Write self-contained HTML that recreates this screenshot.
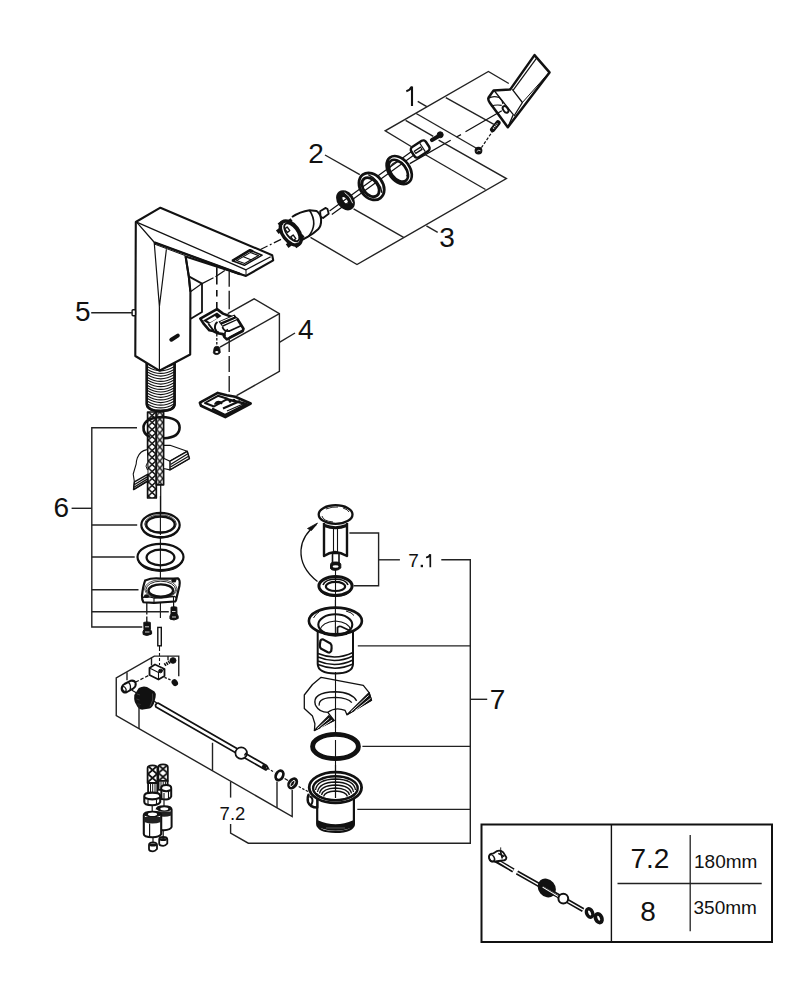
<!DOCTYPE html>
<html><head><meta charset="utf-8">
<style>
html,body{margin:0;padding:0;background:#fff;}
body{width:792px;height:1000px;overflow:hidden;}
svg{display:block;}
text{font-family:"Liberation Sans",sans-serif;fill:#111;}
</style></head><body>
<svg width="792" height="1000" viewBox="0 0 792 1000">

<defs>
<pattern id="braid" width="7.4" height="7" patternUnits="userSpaceOnUse" x="148.4" y="412">
<rect width="7.4" height="7" fill="#fff"/>
<path d="M0,0 L7.4,7 M7.4,0 L0,7" stroke="#111" stroke-width="1.5"/>
</pattern>
<pattern id="braid2" width="6.4" height="7" patternUnits="userSpaceOnUse" x="156.6" y="415.5">
<rect width="6.4" height="7" fill="#fff"/>
<path d="M0,0 L6.4,7 M6.4,0 L0,7" stroke="#111" stroke-width="1.4"/>
</pattern>
<pattern id="thread" width="10" height="2.3" patternUnits="userSpaceOnUse">
<rect width="10" height="2.3" fill="#fff"/>
<path d="M0,0.6 L10,0.6" stroke="#222" stroke-width="1"/>
</pattern>
</defs>
<!-- LEVER part 1 -->
<g id="lever" fill="none" stroke="#111" stroke-linejoin="round">
<path d="M534.5,55.1 L549.5,72.4 L507.8,127.3 L490,103 Q487.5,99.5 488.6,97.5 L493.6,90.4 L510.3,89.4 Z" fill="#fff" stroke-width="2.5"/>
<path d="M512.3,89.4 L522.4,102.5 L514,116" stroke-width="1.3"/>
<path d="M494.5,91 L513.3,114.6 L508,127" stroke-width="1.3"/>
<path d="M522.4,102.5 L546,76" stroke-width="1"/>
<path d="M513.2,90.2 L536.8,57.8" stroke-width="1.2"/>
<path d="M488.6,98.3 Q493.1,95.3 499.2,97.5 Q502.0,99.7 503.0,104.0" stroke-width="1.2"/>
<path d="M490.9,106.2 Q496.2,104.3 501.7,105.4" stroke-width="1.1"/>
<ellipse cx="505.6" cy="109.4" rx="2.3" ry="3.7" transform="rotate(-35 505.6 109.4)" stroke-width="2"/>
</g>
<!-- small parts of 1 -->
<g id="p1small" stroke="#111" fill="none">
<path d="M409.8,163.6 L450.7,140.3 M456.4,137 L461,134.7 M465.5,131.8 L501.8,110.8" stroke-width="1.3"/>
<path d="M481.4,147.7 L492.2,131.8" stroke-width="1.2" stroke-dasharray="3,1.6"/>
<path d="M492.6,129.6 L498,122.8" stroke-width="5.2" stroke-linecap="round"/>
<path d="M493.2,128.5 L497.4,123.5" stroke="#fff" stroke-width="1.6" stroke-dasharray="1,1"/>
<circle cx="478.5" cy="150.6" r="3.3" fill="#111" stroke-width="1.2"/>
<path d="M476.8,151.5 Q478.5,149.5 480.5,150.8" stroke="#fff" stroke-width="0.8"/>
<path d="M432,140 L438,136.5" stroke-width="4.2" stroke-linecap="round"/>
<circle cx="440.2" cy="134.8" r="3" fill="#111"/>
<g transform="rotate(-33 420.2 149)">
<rect x="411.5" y="143" width="17.4" height="12" rx="3" fill="#fff" stroke-width="2.4"/>
<line x1="413.5" y1="149" x2="422" y2="149" stroke-width="4"/>
<line x1="414.5" y1="149" x2="421" y2="149" stroke="#fff" stroke-width="1.2"/>
<line x1="423" y1="144" x2="423" y2="154" stroke-width="1.2"/>
</g>
</g>
<!-- axis double line & rings 2 -->
<g id="rings2" stroke="#111" fill="none">
<path d="M329.5,211 L411.5,151.5 M331.8,214.5 L414,155" stroke-width="1.2"/>
<g transform="rotate(-37 399.2 170.1)">
<path d="M388.60,170.10 A10.6,15.6 0 1,0 409.80,170.10 A10.6,15.6 0 1,0 388.60,170.10 Z M390.60,170.10 A7.6,12.4 0 1,0 405.80,170.10 A7.6,12.4 0 1,0 390.60,170.10 Z" fill="#fff" fill-rule="evenodd" stroke-width="2.6"/>
<path d="M401.5,160.9 A4.8,9.2 0 0,1 401.5,179.3" stroke-width="1.2"/>
<path d="M392,163 Q400.5,158.5 405.5,165" stroke-width="1"/>
</g>
<g transform="rotate(-37 371.6 186.4)">
<path d="M360.20,186.40 A11.4,14.6 0 1,0 383.00,186.40 A11.4,14.6 0 1,0 360.20,186.40 Z M363.00,186.40 A7.3,10.6 0 1,0 377.60,186.40 A7.3,10.6 0 1,0 363.00,186.40 Z" fill="#fff" fill-rule="evenodd" stroke-width="2.8"/>
<path d="M376,175 Q382,186.4 376,197.8" stroke-width="1.3"/>
</g>
<g transform="rotate(-37 345.5 200.3)">
<path d="M337.90,200.30 A7.6,10.2 0 1,0 353.10,200.30 A7.6,10.2 0 1,0 337.90,200.30 Z M342.60,200.30 A2.6,5 0 1,0 347.80,200.30 A2.6,5 0 1,0 342.60,200.30 Z" fill="#111" fill-rule="evenodd" stroke-width="1.6"/>
<path d="M349.5,193.5 Q352,200 349.5,207" stroke="#fff" stroke-width="0.8"/>
</g>
</g>
<!-- cartridge -->
<g id="cart" stroke="#111" fill="none" stroke-linejoin="round">
<path d="M320.1,211.2 L325.7,207.9 L327.5,209.1 L328.7,213.7 L323.1,218 L320.6,216.7 Z" fill="#fff" stroke-width="1.8"/>
<path d="M292,217 Q300,211.5 309.5,210.2 L316.6,211 Q320.6,214 321.1,219.3 Q321.4,226 318.1,229.3 Q313,234 308.5,236.4 L300,241" fill="#fff" stroke-width="2"/>
<path d="M309.5,210.2 Q318.5,224 308.5,236.4" stroke-width="1.6"/>
<g transform="rotate(-37 290.8 233)">
<ellipse cx="290.8" cy="233" rx="8" ry="13.8" fill="#fff" stroke-width="3.4"/>
<ellipse cx="292" cy="233" rx="5.2" ry="10.5" stroke-width="1.8"/>
<rect x="280.5" y="222" width="4" height="4.5" fill="#111" stroke="none"/>
<rect x="280" y="239" width="4" height="4.5" fill="#111" stroke="none"/>
<rect x="286" y="244.5" width="4.5" height="4" fill="#111" stroke="none"/>
<rect x="286" y="217.5" width="4.5" height="4" fill="#111" stroke="none"/>
<rect x="296" y="221" width="3.5" height="3.5" fill="#111" stroke="none"/>
<rect x="296" y="241" width="3.5" height="3.5" fill="#111" stroke="none"/>
<rect x="288.5" y="226" width="3" height="4.5" fill="#fff" stroke-width="1.3"/>
<rect x="288.5" y="236" width="3" height="4.5" fill="#fff" stroke-width="1.3"/>
</g>
</g>
<!-- FAUCET BODY -->
<g id="faucet" stroke="#111" fill="none" stroke-linejoin="round">
<!-- dash-dot lines -->
<path d="M260.4,249.5 L285,237.4" stroke-width="1.2" stroke-dasharray="8,2.5,2,2.5"/>
<path d="M202,283.6 L213.5,277.8 M215.5,276.8 L224.8,270.4" stroke-width="1.2"/>
<path d="M216.8,267.2 L216.8,284.4 M216.8,290 L216.8,296.4 M216.8,302 L216.8,308.4 M216.8,314 L216.8,320" stroke-width="1.6"/>
<path d="M229.2,271.6 L229.2,286.8 M229.2,290.8 L229.2,309.2 M229.2,339 L229.2,352 M229.2,356 L229.2,372 M229.2,376 L229.2,392" stroke-width="1.3"/>
<!-- back box -->
<path d="M188.8,276.4 L202,283.6 L202,312 L190.8,318.8" fill="#fff" stroke-width="1.8"/>
<path d="M190.8,291.6 L202,283.6" stroke-width="1.2"/>
<!-- threaded shank -->
<path d="M146.8,362 L146.8,404 Q147,410.8 160.7,411 Q174.6,410.8 174.6,404 L174.6,360" fill="#fff" stroke-width="2.4"/>
<g stroke-width="1.2"><path d="M147.5,361.5 Q160.7,369.5 174,361.5"/><path d="M147.5,364.1 Q160.7,372.1 174,364.1"/><path d="M147.5,366.8 Q160.7,374.8 174,366.8"/><path d="M147.5,369.4 Q160.7,377.4 174,369.4"/><path d="M147.5,372.1 Q160.7,380.1 174,372.1"/><path d="M147.5,374.8 Q160.7,382.8 174,374.8"/><path d="M147.5,377.4 Q160.7,385.4 174,377.4"/><path d="M147.5,380.1 Q160.7,388.1 174,380.1"/><path d="M147.5,382.7 Q160.7,390.7 174,382.7"/><path d="M147.5,385.4 Q160.7,393.4 174,385.4"/><path d="M147.5,388.0 Q160.7,396.0 174,388.0"/><path d="M147.5,390.6 Q160.7,398.6 174,390.6"/><path d="M147.5,393.3 Q160.7,401.3 174,393.3"/><path d="M147.5,395.9 Q160.7,403.9 174,395.9"/><path d="M147.5,398.6 Q160.7,406.6 174,398.6"/><path d="M147.5,401.2 Q160.7,409.2 174,401.2"/><path d="M147.5,403.9 Q160.7,411.9 174,403.9"/></g>
<path d="M146.8,362 L146.8,404 Q147,410.8 160.7,411 Q174.6,410.8 174.6,404 L174.6,360" stroke-width="2.4"/>
<!-- main body -->
<path d="M160.4,207.7 L272.2,255.2 L273.2,260.3 L246,275.9 L185.6,256.4 L188.8,276.4 L190.4,291.6 L190.2,354.5 L159.4,370.7 L135.3,356 L135.8,222 Z" fill="#fff" stroke-width="2.1"/>
<path d="M136.6,222.1 L246,269.8 L270.7,256.7" stroke-width="1.3"/>
<path d="M246,269.8 L246,275.9" stroke-width="1"/>
<path d="M136.6,222.1 L154.2,242.3 L246,275.9" stroke-width="1.3"/>
<path d="M154.2,242.3 L240,274" stroke-width="2.4"/>
<path d="M155,244.3 L185,255.5" stroke-width="1"/>
<path d="M154.2,242.3 L159.4,306.5 L166.4,249.3" stroke-width="1.2"/>
<path d="M159.4,306.5 L159.4,370.7" stroke-width="1.2"/>
<path d="M185.6,256.4 L188.8,276.4 L190.4,291.6" stroke-width="2"/>
<!-- spout button -->
<path d="M232.3,260.8 L250,250.2 L262.1,255.2 L244.4,265.3 Z" fill="#fff" stroke-width="1.5"/>
<path d="M232.3,260.8 L250,250.2 L253,251.5" stroke-width="2.6"/>
<path d="M236.5,260.6 L250.5,252.4 L258.5,255.6 L244.6,263.4 Z" stroke-width="1.1"/>
<path d="M243.4,256.7 L251.5,260" stroke-width="1.1"/>
<!-- knob 5 -->
<rect x="132.1" y="309.8" width="3.4" height="6" rx="1" fill="#fff" stroke-width="1.4"/>
<!-- logo -->
<path d="M171.3,339.7 L177.8,335.6" stroke="#111" stroke-width="4" stroke-linecap="round"/>
<!-- hoses -->
<rect x="147.6" y="412" width="8.7" height="86" fill="url(#braid)" stroke-width="1.7"/>
<rect x="156.3" y="412" width="7.3" height="72.8" fill="url(#braid2)" stroke-width="1.7"/>
<!-- o-ring -->
<path d="M150,437 Q143,434 143.5,427 Q144.5,418 161.4,417 Q179.5,417.5 179.6,427.5 Q179.5,437.5 164,438.3" stroke-width="2.6"/>
<!-- sink cutout wedge -->
<path d="M146.9,449.6 Q140,451 137.4,457.7 Q136,462 136.2,463.8 L133.2,474 L134.4,481.8 L133.6,489.5 L148,481 L147.6,474" fill="#fff" stroke-width="1.1"/>
<path d="M133.6,489.5 L134.4,481.8 L147.6,474.3 L147.6,481 Z" fill="#fff" stroke-width="1.5"/>
<path d="M134.2,484.8 L147.6,476.6 M133.9,487.3 L147.6,478.9" stroke-width="1.3"/>
<path d="M147.5,462.5 Q144.5,466 147.5,470" stroke-width="1"/>
<path d="M163.6,445.3 L170,445.3 L187.2,451.3 L189.4,458.6 L170,469.8 L163.6,468.5 L163.6,458.2 L170,461.2 L187.2,451.3" fill="#fff" stroke-width="1.2"/>
<path d="M170,461.2 L187.2,451.3 L189.4,458.6 L170,469.8 Z" fill="#fff" stroke-width="1.5"/>
<path d="M170.5,464.5 L187.8,453.8 M170.5,467 L188.6,456.3" stroke-width="1.3"/>
<line x1="160.7" y1="484.8" x2="160.7" y2="515" stroke-width="1.2"/>
</g>
<!-- CLAMP & bracket 4 parts -->
<g id="clamp" stroke="#111" fill="none" stroke-linejoin="round">
<line x1="220" y1="347.2" x2="279.4" y2="313.7" stroke="#222" stroke-width="1.4"/>
<path d="M216.8,334 L216.8,346" stroke-width="1.3" stroke-dasharray="2.5,1.5"/>
<!-- clamp top -->
<path d="M200.3,318.6 L217,309.1 L223,313.6 L237.4,319 L243.5,328.8 L242.7,331 L226.8,339.4 L224.5,337.1 L223,334.1 L217.7,333.3 L213.2,331.1 L209.4,330.3 L204,324.2 Z" fill="#fff" stroke-width="2.6"/>
<path d="M203,320.5 L217,312.5 L221.5,316 L208.5,324 Z" fill="#111" stroke="none"/>
<path d="M207,320.5 L215,316 L217,318.5 L210,322.5 Z" fill="#fff" stroke="none"/>
<path d="M208.5,324 L213.5,330.5 M217.5,322 Q214.5,324 215,328.5 Q216,332 219,332.5" stroke-width="2"/>
<path d="M218.5,321.5 L234.5,314.5 L238.5,319.5 L222.5,327 Z" fill="#111" stroke="none"/>
<path d="M220.5,322 L234,316.3 M222,325 L236.5,318.7" stroke="#fff" stroke-width="1"/>
<path d="M222.5,327 Q224,332 229.5,331 L241.5,325.5" stroke-width="1.8"/>
<path d="M225,336.5 Q224,331 228,329.5" stroke-width="1.8"/>
<path d="M229.5,337 L242,330.5" stroke-width="1.2"/>
<!-- screw -->
<path d="M214,348.5 Q214,346.5 216.8,346.3 Q219.8,346.5 219.8,348.5 L220.3,352.5 Q219,354.6 216.8,354.6 Q213.6,354.6 213.3,352.5 Z" fill="#111" stroke-width="0.8"/>
<ellipse cx="216.8" cy="352" rx="1.6" ry="0.9" fill="#fff" stroke="none"/>
<!-- lower clamp plate -->
<path d="M199.9,402.7 L217.7,392.9 L226.8,395.2 L235.2,396.7 L250.7,403.5 L225.3,417.1 L201,405.8 Z" fill="#fff" stroke-width="2.6"/>
<path d="M205,403 L218,395.8 L227.5,398.8 L214,406.5 Z" fill="#fff" stroke-width="2"/>
<path d="M214.5,404.5 Q216.5,400.5 220.5,401.8 L222,404" fill="#111" stroke-width="1.4"/>
<path d="M226,399 L246.5,404 L225,415 L212,408.5" stroke-width="2.4"/>
<path d="M223,408.5 L240,401" stroke-width="2.2"/>
<path d="M227,411 L243,404" stroke-width="1.2"/>
<circle cx="230" cy="401.5" r="1.3" fill="#111" stroke="none"/>
<circle cx="234" cy="400" r="1.3" fill="#111" stroke="none"/>
</g>
<!-- BRACKET 6 PARTS -->
<g id="p6" stroke="#111" fill="none">
<g>
<ellipse cx="160.5" cy="525" rx="19.2" ry="12.1" fill="#fff" stroke-width="2.2"/>
<path d="M141.8,527 Q143,537 160.5,538.2 Q178,537 179.2,527" stroke-width="1.3"/>
<ellipse cx="160.5" cy="524.5" rx="14.2" ry="8" stroke-width="2.3"/>
<ellipse cx="160.5" cy="524" rx="15.8" ry="9.3" stroke-width="0.8"/>
</g>
<g>
<ellipse cx="160.5" cy="557" rx="23" ry="13.1" fill="#fff" stroke-width="2.2"/>
<path d="M138.2,559 Q140,570.5 160.5,571.3 Q181,570.5 182.8,559" stroke-width="1.3"/>
<ellipse cx="160.5" cy="557.5" rx="13.9" ry="7.8" stroke-width="2.3"/>
</g>
<line x1="160.4" y1="496" x2="160.4" y2="535" stroke-width="1.1"/>
<line x1="160.4" y1="538" x2="160.4" y2="618" stroke-width="1.1"/>
<!-- flange -->
<path d="M145.2,580.4 Q152,577.5 160.5,578.5 Q170,579 178,578.3 Q180.5,580 179.4,586 L176.5,598 Q176,601.5 174.8,601.5 L154,602.8 L143.5,602.3 Q141.8,600 142,595.6 Q143,586 145.2,580.4 Z" fill="#fff" stroke-width="2.2"/>
<path d="M142.5,597.5 Q148,596 154,598 L174.5,596.5 L177,598" stroke-width="1.3"/>
<path d="M154,598 L154,602.8 M173.5,596.5 L173.5,601.5" stroke-width="1.1"/>
<ellipse cx="160.8" cy="590.5" rx="12.3" ry="6.1" stroke-width="2.4"/>
<ellipse cx="160.8" cy="589.5" rx="14.8" ry="8.3" stroke-width="0.9"/>
<ellipse cx="160.8" cy="589" rx="16.2" ry="9.3" stroke-width="0.7"/>
<ellipse cx="146.5" cy="596.2" rx="2.6" ry="1.9" fill="#111" stroke="none"/>
<ellipse cx="173.8" cy="580.4" rx="2.5" ry="2.2" fill="#111" stroke="none"/>
<path d="M146.8,603 L146.8,614.4 M146.8,616.5 L146.8,622" stroke-width="1.3"/>
<line x1="173.6" y1="601.5" x2="173.6" y2="607" stroke-width="1.2"/>
<!-- screws -->
<path d="M171,607.2 Q174,606.3 176.8,607.2 L177,614 Q178.8,616 178.2,618.5 Q174,621.2 170,619 Q169.3,616 171,614 Z" fill="#111" stroke-width="1"/>
<path d="M172,611.5 L175.5,611.5 M172,617 L176,617" stroke="#fff" stroke-width="0.8"/>
<path d="M143.8,622.4 Q147,621.5 150.3,622.4 L150.4,629.5 Q152.2,631.5 151.6,634 Q147,636.6 143.2,634.5 Q142.3,631.5 144,629.5 Z" fill="#111" stroke-width="1"/>
<path d="M145,626.8 L149,626.8 M145,632 L149.5,632" stroke="#fff" stroke-width="0.8"/>
<!-- pin -->
<rect x="157.8" y="627.4" width="3.5" height="18.4" fill="#fff" stroke-width="1.4"/>
<line x1="159.5" y1="645.8" x2="159.5" y2="651" stroke-width="1.1"/>
<line x1="159.5" y1="653" x2="159.5" y2="665" stroke-width="1.1" stroke-dasharray="3,2"/>
</g>
<!-- MECHANISM 7.2 -->
<g id="mech" stroke="#111" fill="none" stroke-linejoin="round">
<!-- block -->
<path d="M149.5,668 L155,664.5 L164.5,669 L164.5,676 L158.5,679.5 L149.5,675 Z" fill="#fff" stroke-width="1.8"/>
<path d="M149.5,668 L158.5,672.5 L164.5,669 M158.5,672.5 L158.5,679.5" stroke-width="1.1"/>
<circle cx="160.5" cy="671" r="1.8" fill="#111"/>
<!-- top screw -->
<path d="M164.5,665 L172,660.5" stroke-width="3.2" stroke-dasharray="1.5,0.8"/>
<ellipse cx="173" cy="660.5" rx="3" ry="2.8" fill="#111"/>
<!-- small screw -->
<line x1="164.5" y1="677.4" x2="171.4" y2="680.2" stroke-width="1.2" stroke-dasharray="2.5,1.5"/>
<ellipse cx="174.8" cy="682.6" rx="3" ry="3.6" transform="rotate(-35 174.8 682.6)" fill="#111" stroke="none"/>
<!-- cylinder -->
<line x1="135.7" y1="682" x2="149.5" y2="675" stroke-width="1.2" stroke-dasharray="3.5,1.8"/>
<path d="M124.5,684 L130.5,680.8 Q134.5,680 135.6,683 Q136.3,686.2 133.5,688.3 L127,692 Q123,693.5 121.8,690 Q121,686 124.5,684 Z" fill="#fff" stroke-width="2"/>
<ellipse cx="124.2" cy="689" rx="1.6" ry="2.6" transform="rotate(-30 124.2 689)" stroke-width="1.2"/>
<path d="M128.5,682.5 Q131.5,685 130,690" stroke-width="1.3"/>
<line x1="131.9" y1="690.2" x2="136.3" y2="692.7" stroke-width="1.2"/>
<!-- gear -->
<path d="M138.8,688 Q143,685.6 147,687 L154.5,691.5 Q156.2,693 155.6,697 L154,703.5 Q152,708 149.5,708.5 L143,709.6 Q139.5,710 137.5,707 L134.8,702 Q133.8,699 134.3,695 Z" fill="#111" stroke="none"/>
<path d="M152.5,693.5 Q154,700 150,706.5" stroke="#666" stroke-width="0.6"/>
<path d="M137,694 L140,695 M136.5,699 L139.5,700 M137.5,704 L140.5,704.5" stroke="#555" stroke-width="0.6"/>
<!-- rod -->
<line x1="154" y1="701" x2="158" y2="704" stroke-width="1.2"/>
<path d="M158,703 L266.5,765.5 L268,768 L265.8,770 L156,707 Q154.5,704 158,703 Z" fill="#fff" stroke-width="1.7"/>
<path d="M263,764 L267,766.3 L265.5,769.5 L261.5,767.3 Z" fill="#111" stroke="none"/>
<circle cx="241.2" cy="753.1" r="5.8" fill="#fff" stroke-width="1.7"/>
<path d="M244.5,755.5 L246,752.8" stroke-width="1.5"/>
<line x1="267.4" y1="768.3" x2="274.5" y2="772.3" stroke-width="1.2" stroke-dasharray="2.5,1.5"/>
<ellipse cx="279.5" cy="775.4" rx="3.5" ry="4.9" transform="rotate(28 279.5 775.4)" fill="#fff" stroke-width="2.8"/>
<line x1="284.6" y1="778.4" x2="288" y2="780.5" stroke-width="1.2"/>
<ellipse cx="292.7" cy="783.4" rx="4.9" ry="6.5" transform="rotate(35 292.7 783.4)" fill="#111" stroke="none"/>
<ellipse cx="292.5" cy="783.5" rx="1.6" ry="3.6" transform="rotate(35 292.5 783.5)" fill="none" stroke="#fff" stroke-width="0.9"/>
<line x1="298.7" y1="786.5" x2="308.8" y2="792" stroke-width="1.2" stroke-dasharray="2.5,1.5"/>
</g>
<!-- VALVES -->
<defs>
<pattern id="braid3" width="9" height="8" patternUnits="userSpaceOnUse" x="148" y="766">
<rect width="9" height="8" fill="#fff"/>
<path d="M0,0 L9,8 M9,0 L0,8" stroke="#111" stroke-width="1.8"/>
</pattern>
<pattern id="braid4" width="9" height="8" patternUnits="userSpaceOnUse" x="158.5" y="765">
<rect width="9" height="8" fill="#fff"/>
<path d="M0,0 L9,8 M9,0 L0,8" stroke="#111" stroke-width="1.8"/>
</pattern>
</defs>
<g id="valves" stroke="#111" fill="none" stroke-linejoin="round">
<!-- right assembly (behind) -->
<path d="M158.3,767 Q158.3,764.3 163,764.3 Q167.8,764.3 167.8,767 L167.8,781 L158.3,781 Z" fill="url(#braid4)" stroke-width="1.8"/>
<rect x="158.6" y="780.8" width="9" height="9" fill="#fff" stroke-width="1.8"/>
<path d="M161,781.5 L161,789 M163.2,781.5 L163.2,789.5 M165.4,781.5 L165.4,789" stroke-width="1"/>
<path d="M161.2,788 Q161.2,785 166.2,785 Q171.2,785 171.2,788 L171.2,796.5 Q170,799.5 166,799.5 L161.5,799 Z" fill="#fff" stroke-width="2"/>
<path d="M161.5,790 Q166,792.5 171,790" stroke-width="2.2"/>
<path d="M164,793 L164,798.5 M168.5,792 L168.5,798" stroke-width="1.1"/>
<line x1="164" y1="799.5" x2="164" y2="806.5" stroke-width="1.2"/>
<path d="M156.6,809.5 Q156.6,806.2 164,806.2 Q171.6,806.2 171.6,809.5 L171.6,827 Q170.5,830 164,830.2 L157,830" fill="#fff" stroke-width="2"/>
<ellipse cx="164" cy="809" rx="7.3" ry="2.8" fill="#111" stroke="none"/>
<ellipse cx="164.3" cy="808.8" rx="4" ry="1.6" fill="#fff" stroke="none"/>
<path d="M157,811.5 L171.4,811.5 L171.4,815.5 Q164,818 157,815.5 Z" fill="#222" stroke="none"/>
<line x1="163.2" y1="830" x2="163.2" y2="837" stroke-width="1.2"/>
<path d="M159.2,839.5 Q159.2,837 163.2,837 Q167.3,837 167.3,839.5 L167.3,843.5 Q165.5,845.8 163.2,845.8 Q159.2,845.8 159.2,843.5 Z" fill="#fff" stroke-width="1.8"/>
<ellipse cx="163.2" cy="839.5" rx="3.6" ry="1.5" fill="#111" stroke="none"/>
<!-- left assembly -->
<path d="M147.6,768 Q147.6,765.4 152.5,765.4 Q157.4,765.4 157.4,768 L157.4,783 L147.6,783 Z" fill="url(#braid3)" stroke-width="1.8"/>
<rect x="148.1" y="783" width="9.2" height="10" fill="#fff" stroke-width="1.8"/>
<path d="M150.5,784 L150.5,792 M152.7,784 L152.7,792.5 M155,784 L155,792" stroke-width="1"/>
<path d="M144.3,796 Q144.3,792.6 152.2,792.6 Q160.2,792.6 160.2,796 L160.2,802 Q158.5,805.2 152.2,805.2 Q144.3,805.2 144.3,802 Z" fill="#fff" stroke-width="2.1"/>
<path d="M144.5,797.8 Q152.2,801 160,797.8" stroke-width="2.3"/>
<path d="M148,800 L148,804.5 M156.5,800 L156.5,804.5" stroke-width="1.1"/>
<line x1="152.2" y1="805.2" x2="152.2" y2="811.8" stroke-width="1.2"/>
<path d="M143.8,815 Q143.8,811.7 152.5,811.7 Q161.2,811.7 161.2,815 L161.2,834 Q159.5,837.2 152.5,837.2 Q143.8,837.2 143.8,834 Z" fill="#fff" stroke-width="2.1"/>
<ellipse cx="152.5" cy="814.5" rx="8.4" ry="3" fill="#111" stroke="none"/>
<ellipse cx="152.5" cy="814.3" rx="4.6" ry="1.8" fill="#fff" stroke="none"/>
<path d="M144,817 L161,817 L161,822 Q152.5,825 144,822 Z" fill="#222" stroke="none"/>
<line x1="149.6" y1="823.5" x2="149.6" y2="836.5" stroke-width="1.2"/>
<line x1="153" y1="837.2" x2="153" y2="842.4" stroke-width="1.2"/>
<path d="M149,845 Q149,842.4 153,842.4 Q157,842.4 157,845 L157,849 Q155,851.3 153,851.3 Q149,851.3 149,849 Z" fill="#fff" stroke-width="1.8"/>
<ellipse cx="153" cy="845" rx="3.6" ry="1.5" fill="#111" stroke="none"/>
</g>
<!-- DRAIN 7 -->
<g id="drain" stroke="#111" fill="none" stroke-linejoin="round">
<line x1="335.5" y1="673" x2="335.5" y2="752" stroke-width="1.1"/>
<!-- arc arrow -->
<path d="M317.5,581.5 Q300,568 301,550 Q302,535 316.5,524.5" stroke-width="1.3"/>
<path d="M317.5,523 L307.5,528.5 L311.5,530.5 Z" fill="#111" stroke-width="0.8"/>
<!-- plug -->
<path d="M324,523 L324,556 Q329,552.5 335,552 Q341,552.5 347,556 L347,523" fill="#fff" stroke-width="2.4"/>
<path d="M333.5,526 L333.5,552.5 M337.5,526 L337.5,552.5" stroke-width="1.1"/>
<path d="M324.5,525.5 Q335.5,530 346.5,525.5" stroke-width="3"/>
<ellipse cx="335.6" cy="514.5" rx="16.9" ry="9.3" fill="#fff" stroke-width="2.3"/>
<path d="M322,516 Q323,521 333,522 M326,509 Q332,506.5 338,507 M343,508 Q348,509.5 349,512" stroke-width="0.9"/>
<rect x="332.5" y="553.5" width="6.5" height="9.5" fill="#fff" stroke-width="1.6"/>
<path d="M330.5,564.5 Q330.5,562 335.5,562 Q340.8,562 340.8,564.5 L340.8,568 Q338.5,570.3 335.5,570.3 Q330.5,570.3 330.5,568 Z" fill="#111" stroke-width="1"/>
<ellipse cx="335.6" cy="566.5" rx="3" ry="1.3" fill="#fff" stroke="none"/>
<!-- ring 7.1 -->
<ellipse cx="335.5" cy="586" rx="16.6" ry="9.4" fill="#fff" stroke-width="3"/>
<path d="M319.5,589 Q322,595.8 335.5,596.3 Q349,595.8 351.5,589" stroke-width="1.2"/>
<ellipse cx="335.5" cy="586.4" rx="9.6" ry="4.6" stroke-width="2.2"/>
<path d="M323,585 Q325,579.5 335.5,579 Q346,579.5 348,585" stroke-width="1.6"/>
<line x1="335.5" y1="570" x2="335.5" y2="608" stroke-width="1.1"/>
<!-- upper drain body -->
<path d="M317.7,630 L317.7,664 Q318,673.4 335.4,673.4 Q352.8,673.4 353,664 L353,630" fill="#fff" stroke-width="2"/>
<path d="M318,653.5 Q335.4,661 353,652.5 M318,657 Q335.4,664.5 353,656 M318,661 Q335.4,668.5 353,660 M318,664.5 Q335.4,672 353,664" stroke-width="1.5"/>
<path d="M320.5,640.5 Q321.5,638.8 323.5,639.6 L330.5,643.5 Q332,645 331.6,648 L331.2,651 Q330,653.2 327.8,652.2 L321.2,648.8 Q319.7,647.5 319.8,645 Z" stroke-width="2.2"/>
<ellipse cx="335.4" cy="621" rx="26.5" ry="13.4" fill="#fff" stroke-width="2.6"/>
<path d="M313.5,618 Q316,613.5 319,612 M346,611 Q352,612.5 354,615.5" stroke-width="1"/>
<ellipse cx="335.3" cy="624.6" rx="17" ry="10.3" stroke-width="2.1"/>
<path d="M319.6,630.5 Q322,622 335.3,621 Q349,622 351,630.5" stroke-width="1.2"/>
<path d="M337.5,633.5 L337.5,627.5 Q338.5,625.8 341,626.5 L349.5,630.5" stroke-width="1.8"/>
<path d="M323.8,633.8 Q335.4,637.3 347,633.8" stroke-width="2.2"/>
<line x1="335.4" y1="600" x2="335.4" y2="633.5" stroke-width="1.1"/>
<!-- wedge -->
<path d="M 321.1,677.3 L 363.3,685.4 L 369.1,692.6 L 371.5,700.3 L 347.0,714.7 L 345.1,710.4 Q 335.5,706.5 327.8,712.3 L 334.1,720.5 L 314.4,730.5 L 314.9,723.8 L 312.5,716.1 L 304.3,708.5 L 304.3,695.0 L 312.5,684.5 Z" fill="#fff" stroke-width="1.3"/>
<path d="M 315.4,705.1 Q 311.5,692.2 335.5,691.7 Q 351.8,692.2 356.6,700.8" stroke-width="1.4"/>
<path d="M 319.2,705.6 Q 318.2,697.4 335.5,697.4 Q 348.0,697.9 351.8,702.7" stroke-width="1.3"/>
<path d="M 315.4,705.1 Q 319.2,712.3 327.8,712.3" stroke-width="1.3"/>
<path d="M 347.0,714.7 L 369.1,692.6 L 371.5,700.3 Z" fill="#111" stroke-width="1.2"/>
<path d="M 350.9,711.8 L 368.6,695.5 M 354.7,710.9 L 370.5,698.4" stroke="#fff" stroke-width="0.9"/>
<path d="M 314.4,730.5 L 328.8,715.7 L 334.1,720.5 Z" fill="#111" stroke-width="1.2"/>
<path d="M 317.3,728.6 L 329.3,718.1 M 320.6,728.1 L 332.1,720.0" stroke="#fff" stroke-width="0.9"/>
<line x1="335.5" y1="672" x2="335.5" y2="728" stroke-width="1.1"/>
<!-- o-ring 7 -->
<ellipse cx="335.5" cy="746.5" rx="22.9" ry="12.1" fill="#fff" stroke="#111" stroke-width="4.9"/>
<line x1="335.5" y1="740" x2="335.5" y2="780" stroke-width="1.1"/>
<!-- lower drain body -->
<path d="M317.2,798 L317.2,824 Q318,831.8 335.5,832 Q353,831.8 353.9,824 L353.9,798" fill="#fff" stroke-width="2.2"/>
<path d="M317.5,821 Q335.5,829 353.6,821 L353.6,826 Q335.5,834 317.5,826 Z" fill="#111" stroke-width="1.6"/>
<path d="M326,828 L345,828" stroke="#777" stroke-width="0.7"/>
<path d="M309,794 Q307,797 308,802 Q310,807.5 317.3,807.5 L317.3,795" fill="#fff" stroke-width="2.4"/>
<path d="M309.5,796.5 Q312.5,797 312.5,801 Q312,805 310,805" stroke-width="2"/>
<ellipse cx="335.4" cy="787.5" rx="26.2" ry="15.4" fill="#fff" stroke-width="2.8"/>
<ellipse cx="335.4" cy="788.3" rx="22.3" ry="12" stroke-width="2.4"/>
<path d="M315.5,790 Q317,779.5 335.4,779 Q354,779.5 355.5,790" stroke-width="1.3"/>
<path d="M317.5,792 Q319,782.5 335.4,782 Q352,782.5 353.5,792" stroke-width="1.3"/>
<path d="M319.5,793.5 Q321,785.5 335.4,785 Q350,785.5 351.5,793.5" stroke-width="1.3"/>
<path d="M321.5,795 Q323,788.5 335.4,788 Q348,788.5 349.5,795" stroke-width="1.3"/>
<path d="M323.5,796.5 Q325,791.5 335.4,791 Q346,791.5 347.5,796.5" stroke-width="1.3"/>
<path d="M316,793.5 Q320,799.5 335.4,800 Q351,799.5 355,793.5" stroke-width="2.2"/>
<line x1="335.5" y1="765" x2="335.5" y2="798" stroke-width="1.2"/>
</g>
<!-- inset drawing -->
<g id="insetdraw" stroke="#111" fill="none" stroke-linejoin="round">
<path d="M494.2,859.5 L513.4,870.4 M517.0,872.5 L541.0,886.1 M551.0,891.8 L559.5,896.6 M567.5,901.1 L583.1,910.0" stroke-width="4.6" stroke-linecap="butt"/>
<path d="M495.5,859.5 L513.4,870.4 M517.0,872.5 L541.0,886.1 M551.0,891.8 L559.5,896.6 M567.5,901.1 L583.1,910.0" stroke="#fff" stroke-width="1.4" stroke-linecap="butt"/>
<path d="M489.2,858.5 Q488.2,853.4 493.2,853.4 L496.3,851.4 Q500.3,849.4 503.3,852.4 L506.4,857.5 Q506.4,860.5 502.3,860.5 L495.3,861.5 Q490.2,862.5 489.2,858.5 Z" fill="#fff" stroke-width="1.8"/>
<ellipse cx="491.8" cy="858.1" rx="2.4" ry="3.6" transform="rotate(-30 491.8 858.1)" stroke-width="1.4"/>
<path d="M498.3,853.4 L504.3,856.5 M500.3,850.4 L502.3,858.5" stroke-width="1.6"/>
<line x1="500.7" y1="847.4" x2="500.7" y2="851.4" stroke-width="0.9"/>
<ellipse cx="546.8" cy="888" rx="8.4" ry="10" transform="rotate(-40 546.8 888)" fill="#111" stroke="none"/>
<path d="M542.7,886.8 L558.9,896.5" stroke="#fff" stroke-width="1.5"/>
<path d="M542.7,886.2 L558.9,895.9" stroke-width="0.8"/>
<circle cx="563.3" cy="898.6" r="4.9" fill="#fff" stroke-width="2"/>
<ellipse cx="589.6" cy="913" rx="2.9" ry="4.4" transform="rotate(-25 589.6 913)" fill="#fff" stroke-width="3.4"/>
<ellipse cx="598.7" cy="918.2" rx="3" ry="4.5" transform="rotate(-25 598.7 918.2)" fill="#fff" stroke-width="3.8"/>
</g>
<g id="labels" font-size="28">
<path d="M412,86.5 L412,106 M406.3,91.2 Q410.5,90 411.5,86.8" stroke="#111" stroke-width="2.1" fill="none"/>
<text x="308.3" y="162.5">2</text>
<text x="439.2" y="246.7">3</text>
<text x="297.9" y="339">4</text>
<text x="75" y="321.3">5</text>
<text x="53.5" y="516.5">6</text>
<text x="489.8" y="708.9">7</text>
<text x="408.3" y="567.2" font-size="19">7</text>
<rect x="420.7" y="564.8" width="2.3" height="2.4" fill="#111"/>
<path d="M430.3,554.3 L430.3,567.2 M426,557.5 Q429.5,557 430,554.5" stroke="#111" stroke-width="1.7" fill="none"/>
<text x="219.6" y="820.3" font-size="18.5">7.2</text>
</g>
<g id="brackets" fill="none" stroke="#222" stroke-width="1.4">
<!-- bracket 1 -->
<polyline points="508.8,83.5 488.4,71.5 385.2,130.8 412,147"/>
<polyline points="438.6,140.2 506.4,178.6 357,264.5 310.5,237.4"/>
<line x1="405.6" y1="120.3" x2="433.3" y2="136.4"/>
<line x1="416.2" y1="113.5" x2="476" y2="148"/>
<line x1="445.8" y1="97.6" x2="493.9" y2="124.4"/>
<line x1="417.7" y1="101.4" x2="426.8" y2="106.7"/>
<line x1="325" y1="155" x2="359.8" y2="174.7"/>
<line x1="425" y1="154.5" x2="485.5" y2="189.5"/>
<line x1="353.6" y1="208.9" x2="403.6" y2="237.3"/>
<line x1="426.4" y1="225.9" x2="437.7" y2="232.3"/>
<!-- bracket 4 -->
<polyline points="227.7,313.7 254.1,298.8 279.4,313.7 279.4,371.4 236.5,395.6"/>
<line x1="279.4" y1="342.4" x2="295" y2="333"/>
<!-- 5 -->
<line x1="91.2" y1="312.8" x2="132.2" y2="312.8"/>
<!-- bracket 6 -->
<polyline points="137,427.7 91.8,427.7 91.8,627 142.3,627"/>
<line x1="71.6" y1="508.3" x2="91.8" y2="508.3"/>
<line x1="91.8" y1="525" x2="137.2" y2="525"/>
<line x1="91.8" y1="557" x2="134.7" y2="557"/>
<line x1="91.8" y1="589.8" x2="138.5" y2="589.8"/>
<line x1="91.8" y1="611.8" x2="168.8" y2="611.8"/>
<!-- bracket 7.2 -->
<polyline points="178.75,676.25 178.75,656.1 154.3,656.1 116.25,678 116.25,715.5 292.2,816.6 292.2,790"/>
<line x1="127" y1="672.3" x2="127" y2="680.2"/>
<line x1="151.5" y1="657.5" x2="151.5" y2="665.5"/>
<line x1="168" y1="656" x2="168" y2="660.3"/>
<line x1="139" y1="704" x2="139" y2="729"/>
<line x1="212.5" y1="742.8" x2="212.5" y2="770.6"/>
<line x1="277" y1="781.5" x2="277" y2="807.8"/>
<line x1="230.6" y1="781.7" x2="230.6" y2="797.6"/>
<polyline points="230.6,824 230.6,833.2 248.3,843.2 470.3,843.2 470.3,559.8 441.3,559.8"/>
<line x1="357.8" y1="645.9" x2="470.3" y2="645.9"/>
<line x1="362.4" y1="746.4" x2="470.3" y2="746.4"/>
<line x1="357.3" y1="809.4" x2="470.3" y2="809.4"/>
<line x1="470.3" y1="699.3" x2="487.2" y2="699.3"/>
<!-- bracket 7.1 -->
<polyline points="349.4,533 378.6,533 378.6,585.8 353.6,585.8"/>
<line x1="378.6" y1="559.8" x2="399.9" y2="559.8"/>
</g>
<!-- inset -->
<g id="inset">
<rect x="481.5" y="824.5" width="290.5" height="117.5" fill="none" stroke="#111" stroke-width="2"/>
<line x1="611.4" y1="824" x2="611.4" y2="942" stroke="#111" stroke-width="1.4"/>
<line x1="690.2" y1="835" x2="690.2" y2="931.2" stroke="#222" stroke-width="1.3"/>
<line x1="617.5" y1="883.5" x2="761.7" y2="883.5" stroke="#222" stroke-width="1.3"/>
<text x="630.4" y="868.4" font-size="28">7.2</text>
<text x="640.2" y="921" font-size="28">8</text>
<text x="694" y="868.4" font-size="19">180mm</text>
<text x="693.5" y="913.9" font-size="19">350mm</text>
</g>
</svg>
</body></html>
